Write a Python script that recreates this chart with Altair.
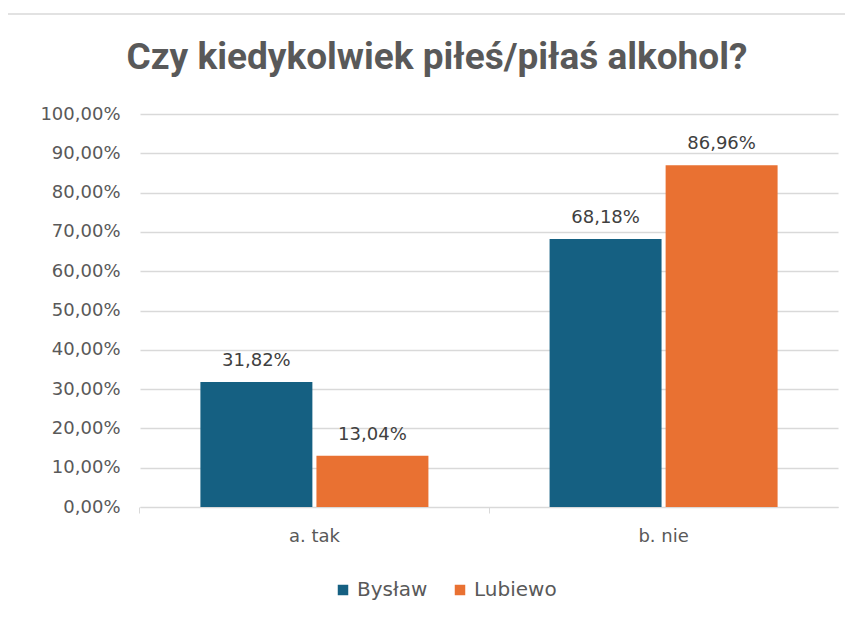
import altair as alt
import pandas as pd

categories = ["a. tak", "b. nie"]
series = ["Bysław", "Lubiewo"]
bystaw = [0.3182, 0.6818]
lubiewo = [0.1304, 0.8696]
colors = ["#156082", "#E97132"]
y_ticks = [0, 0.1, 0.2, 0.3, 0.4, 0.5, 0.6, 0.7, 0.8, 0.9, 1.0]

rows = []
for c, v in zip(categories, bystaw):
    rows.append({"kat": c, "seria": "Bysław", "val": v})
for c, v in zip(categories, lubiewo):
    rows.append({"kat": c, "seria": "Lubiewo", "val": v})
df = pd.DataFrame(rows)

FONT = "DejaVu Sans"
GREY = "#595959"

base = alt.Chart(df).encode(
    x=alt.X("kat:N", sort=categories, title=None,
            scale=alt.Scale(paddingInner=0.347, paddingOuter=0.173),
            axis=alt.Axis(labelAngle=0, labelFontSize=18, labelColor=GREY, labelFont=FONT,
                          labelPadding=14, domainColor="#d9d9d9", tickColor="#d9d9d9",
                          ticks=True, tickSize=6, bandPosition=-0.265, grid=False)),
    xOffset=alt.XOffset("seria:N", sort=series,
                        scale=alt.Scale(paddingInner=0.035, paddingOuter=0)),
    y=alt.Y("val:Q", title=None,
            scale=alt.Scale(domain=[0, 1], nice=False),
            axis=alt.Axis(values=y_ticks, tickCount=11, labelFontSize=18, labelColor=GREY,
                          labelFont=FONT,
                          labelExpr="replace(format(datum.value, '.2%'), '.', ',')",
                          labelOverlap=False, labelPadding=20, ticks=False, domain=False,
                          gridColor="#d9d9d9", gridWidth=1.5)),
)

bars = base.mark_bar().encode(
    color=alt.Color("seria:N", sort=series,
                    scale=alt.Scale(domain=series, range=colors),
                    legend=alt.Legend(title=None, orient="none", direction="horizontal",
                                      legendX=193, legendY=466, symbolType="square",
                                      symbolSize=110, symbolStrokeWidth=0,
                                      labelFontSize=20, labelColor=GREY, labelFont=FONT,
                                      columnPadding=22, labelOffset=4)),
)

labels = base.transform_calculate(
    lab="replace(format(datum.val, '.2%'), '.', ',')"
).mark_text(baseline="bottom", dy=-12, fontSize=18, color="#404040", font=FONT).encode(
    text="lab:N",
)

frame = alt.Chart(pd.DataFrame({"a": [0]})).mark_rect(
    fill=None, stroke="#d9d9d9", strokeWidth=1.5, clip=False
).encode(
    x=alt.value(-133), x2=alt.value(730),
    y=alt.value(-100), y2=alt.value(530),
)

chart = alt.layer(frame, bars, labels).properties(
    width=698,
    height=393,
    autosize=alt.AutoSizeParams(type="none"),
    padding={"left": 132, "top": 106, "right": 7, "bottom": 105},
    title=alt.TitleParams("Czy kiedykolwiek piłeś/piłaś alkohol?", fontSize=37,
                          font="Roboto", fontWeight="bold", color=GREY,
                          anchor="middle", dx=-52, offset=-64),
).configure_view(stroke=None)

chart.save("out.html", embed_options={"renderer": "svg", "actions": False})
